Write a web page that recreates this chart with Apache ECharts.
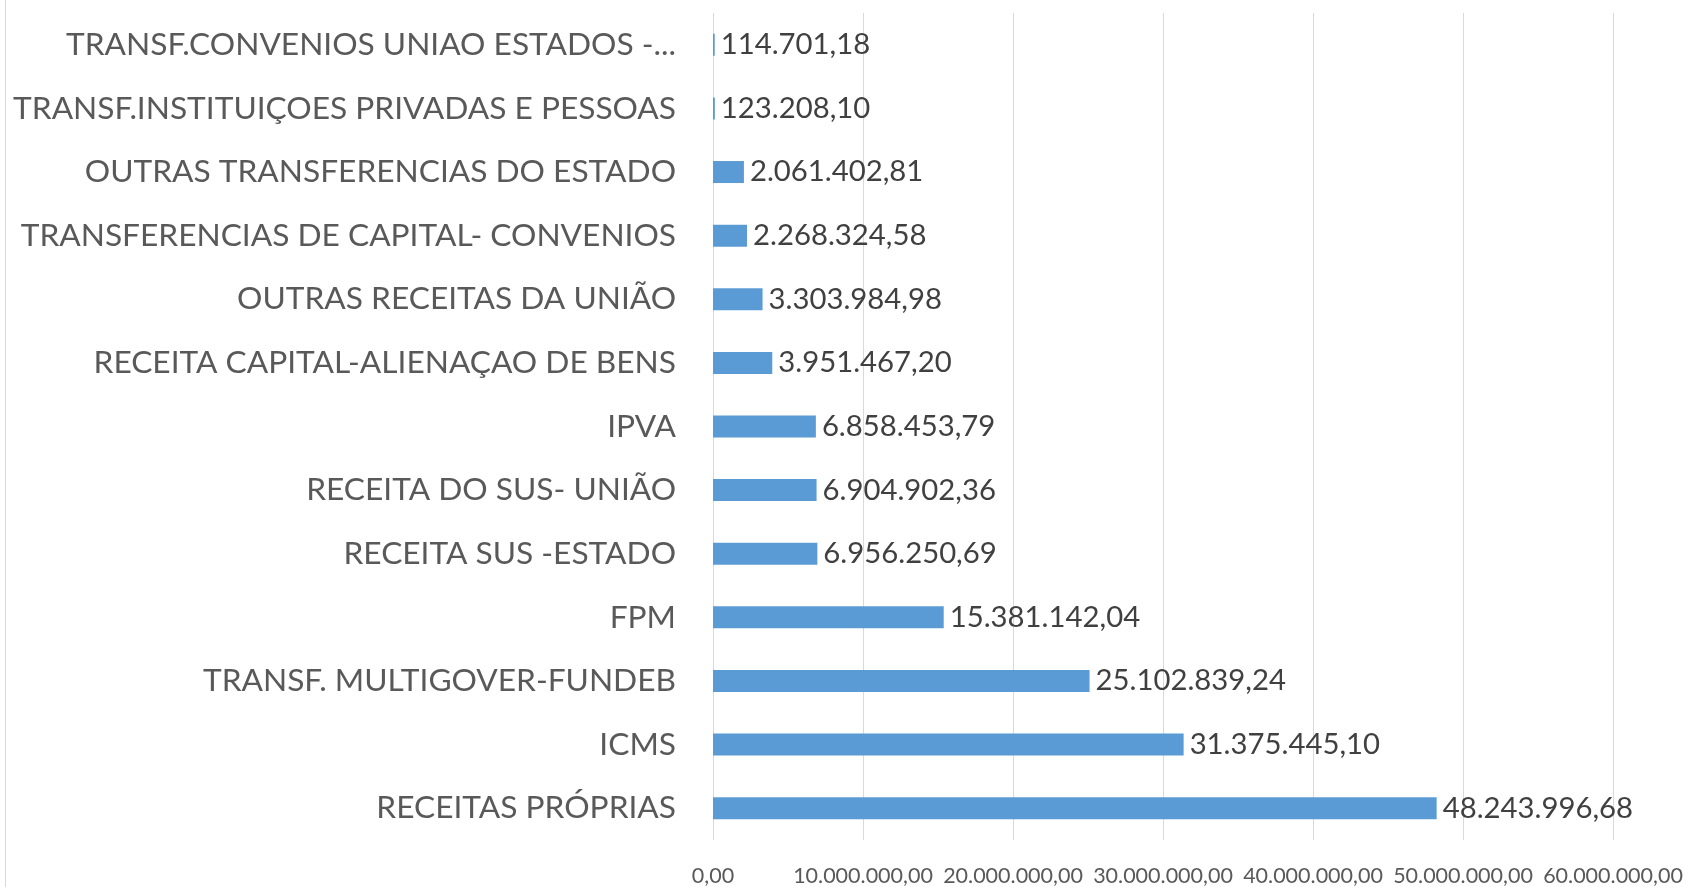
<!DOCTYPE html>
<html>
<head>
<meta charset="utf-8">
<script src="https://cdn.jsdelivr.net/npm/echarts@6/dist/echarts.min.js"></script>
<style>
html,body{margin:0;padding:0;background:#fff;}
#chart{width:1688px;height:887px;}
</style>
</head>
<body>
<div id="chart"></div>
<script>
// Categories, top to bottom as drawn
const categories = [
  "TRANSF.CONVENIOS UNIAO ESTADOS -...",
  "TRANSF.INSTITUIÇOES PRIVADAS E PESSOAS",
  "OUTRAS TRANSFERENCIAS DO ESTADO",
  "TRANSFERENCIAS DE CAPITAL- CONVENIOS",
  "OUTRAS RECEITAS DA UNIÃO",
  "RECEITA CAPITAL-ALIENAÇAO DE BENS",
  "IPVA",
  "RECEITA DO SUS- UNIÃO",
  "RECEITA SUS -ESTADO",
  "FPM",
  "TRANSF. MULTIGOVER-FUNDEB",
  "ICMS",
  "RECEITAS PRÓPRIAS"
];
const values = [
  114701.18,
  123208.10,
  2061402.81,
  2268324.58,
  3303984.98,
  3951467.20,
  6858453.79,
  6904902.36,
  6956250.69,
  15381142.04,
  25102839.24,
  31375445.10,
  48243996.68
];
const axisMin = 0;
const axisMax = 60000000;
const axisInterval = 10000000;

function fmt(v){
  const parts = v.toFixed(2).split('.');
  const intPart = parts[0].replace(/\B(?=(\d{3})+(?!\d))/g, '.');
  return intPart + ',' + parts[1];
}

const chart = echarts.init(document.getElementById('chart'));
chart.setOption({
  backgroundColor: '#ffffff',
  animation: false,
  grid: { left: 713, right: 75, top: 13, bottom: 46, containLabel: false },
  xAxis: {
    type: 'value',
    min: axisMin, max: axisMax, interval: axisInterval,
    axisLine: { show: false },
    axisTick: { show: false },
    splitLine: { show: true, lineStyle: { color: '#D9D9D9', width: 1 } },
    axisLabel: {
      formatter: v => fmt(v),
      color: '#595959',
      fontFamily: 'Lato',
      fontSize: 21.5,
      margin: 25
    }
  },
  yAxis: {
    type: 'category',
    data: categories,
    inverse: true,
    axisLine: { show: false },
    axisTick: { show: false },
    splitLine: { show: false },
    axisLabel: {
      color: '#595959',
      fontFamily: 'Lato',
      fontSize: 31.7,
      margin: 37,
      padding: [9, 0, 0, 0]
    }
  },
  series: [{
    type: 'bar',
    data: values,
    barWidth: 22,
    itemStyle: { color: '#5B9BD5' },
    label: {
      show: true,
      position: 'right',
      distance: 6,
      padding: [9, 0, 0, 0],
      formatter: p => fmt(p.value),
      color: '#404040',
      fontFamily: 'Lato',
      fontSize: 29.3
    }
  }],
  graphic: [{
    type: 'line',
    shape: { x1: 5.5, y1: 0, x2: 5.5, y2: 887 },
    style: { stroke: '#D9D9D9', lineWidth: 1 },
    silent: true
  }]
});
</script>
</body>
</html>
